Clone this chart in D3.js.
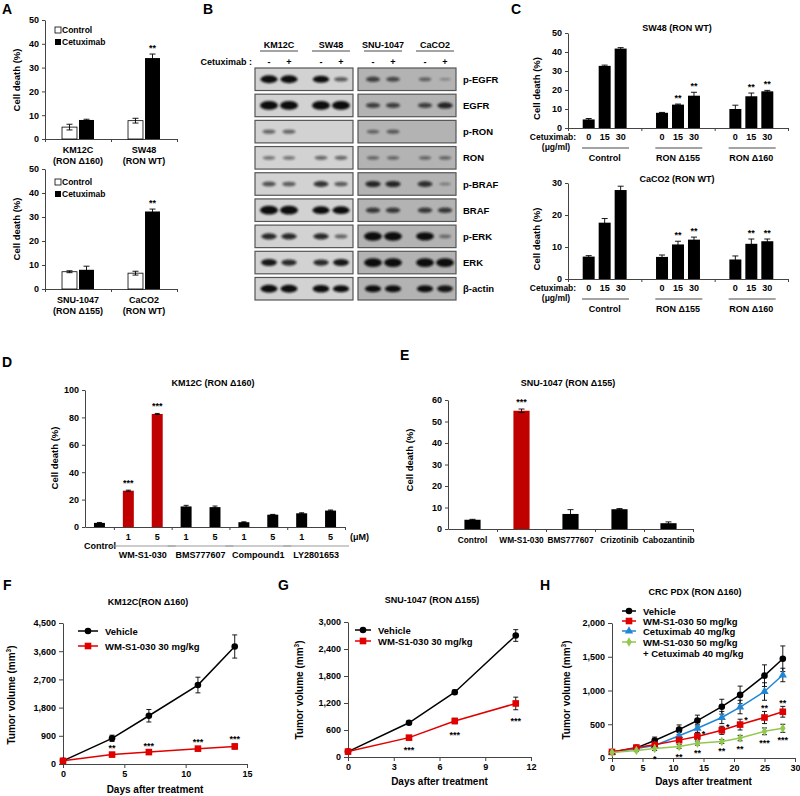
<!DOCTYPE html>
<html>
<head>
<meta charset="utf-8">
<script src="https://cdn.jsdelivr.net/npm/d3@7"></script>
<style>
body{margin:0;background:#fff;}
svg text{font-family:"Liberation Sans",Arial,sans-serif;font-weight:bold;fill:#000;}
</style>
</head>
<body>
<svg id="fig" width="800" height="796"></svg>
<script>
// ---- panel A data
var aCatsTop = ["KM12C", "SW48"];
var aSubsTop = ["(RON \u0394160)", "(RON WT)"];
var aCtrlTop = [5.0, 7.7], aCtrlTopErr = [1.2, 1.0];
var aCetTop = [8.0, 34.0], aCetTopErr = [0.3, 1.7];
var aStarsTop = ["", "**"];
var aCatsBot = ["SNU-1047", "CaCO2"];
var aSubsBot = ["(RON \u0394155)", "(RON WT)"];
var aCtrlBot = [7.2, 6.6], aCtrlBotErr = [0.4, 0.8];
var aCetBot = [8.0, 32.3], aCetBotErr = [1.5, 1.0];
var aStarsBot = ["", "**"];

// ---- panel B (western blot) data
var blotLines = ["KM12C", "SW48", "SNU-1047", "CaCO2"];
var blotTreat = ["-", "+"];
var blotRows = ["p-EGFR", "EGFR", "p-RON", "RON", "p-BRAF", "BRAF", "p-ERK", "ERK", "\u03b2-actin"];
var blotBands = [
  [0.85, 0.85, 0.75, 0.35, 0.45, 0.4, 0.25, 0.05],
  [1, 1, 1, 1, 0.45, 0.45, 0.45, 0.6],
  [0.3, 0.3, 0, 0, 0.25, 0.3, 0, 0],
  [0.22, 0.22, 0.28, 0.28, 0.22, 0.22, 0.22, 0.22],
  [0.4, 0.35, 0.55, 0.35, 0.6, 0.6, 0.55, 0.12],
  [1, 1, 0.85, 0.85, 0.5, 0.5, 0.5, 0.5],
  [0.6, 0.6, 0.6, 0.3, 1, 1, 0.95, 0.2],
  [0.7, 0.6, 0.6, 0.7, 1, 1, 1, 1],
  [0.85, 0.85, 0.8, 0.75, 0.75, 0.75, 0.75, 0.7]
];

// ---- panel C data
var cGroups = ["Control", "RON \u0394155", "RON \u0394160"];
var cDoses = ["0", "15", "30"];
var cSw48 = [[4.5, 32.7, 41.8], [8.0, 12.3, 17.0], [10.0, 16.7, 19.3]];
var cSw48Err = [[0.5, 0.4, 0.5], [0.2, 0.3, 1.8], [2.0, 1.7, 0.5]];
var cSw48Stars = [["", "", ""], ["", "**", "**"], ["", "**", "**"]];
var cCaco2 = [[7.0, 17.6, 27.8], [6.9, 10.8, 12.3], [6.1, 11.0, 11.8]];
var cCaco2Err = [[0.3, 1.3, 1.2], [0.6, 1.0, 0.8], [1.1, 1.5, 0.7]];
var cCaco2Stars = [["", "", ""], ["", "**", "**"], ["", "**", "**"]];

// ---- panel D data
var dGroups = ["Control", "WM-S1-030", "BMS777607", "Compound1", "LY2801653"];
var dBarGroup = [0, 1, 1, 2, 2, 3, 3, 4, 4];
var dDoses = ["", "1", "5", "1", "5", "1", "5", "1", "5"];
var dValues = [3.0, 26.5, 82.5, 15.0, 14.5, 3.5, 9.0, 10.0, 12.0];
var dErr = [0.3, 0.4, 0.4, 0.8, 0.8, 0.3, 0.2, 0.4, 0.4];
var dStars = ["", "***", "***", "", "", "", "", "", ""];

// ---- panel E data
var eCats = ["Control", "WM-S1-030", "BMS777607", "Crizotinib", "Cabozantinib"];
var eValues = [4.3, 55.0, 7.0, 9.2, 2.7];
var eErr = [0.2, 0.8, 2.0, 0.3, 0.6];
var eStars = ["", "***", "", "", ""];

// ---- panel F data
var fDays = [0, 4, 7, 11, 14];
var fVehicle = [100, 820, 1540, 2520, 3750];
var fVehicleErr = [20, 100, 200, 250, 370];
var fWm = [100, 300, 380, 490, 560];
var fWmErr = [20, 40, 40, 60, 80];
var fStars = ["", "**", "***", "***", "***"];

// ---- panel G data
var gDays = [0, 4, 7, 11];
var gVehicle = [120, 760, 1440, 2700];
var gVehicleErr = [15, 40, 50, 130];
var gWm = [120, 430, 800, 1190];
var gWmErr = [15, 30, 60, 140];
var gStars = ["", "***", "***", "***"];

// ---- panel H data
var hDays = [0, 4, 7, 11, 14, 18, 21, 25, 28];
var hVehicle = [90, 150, 260, 420, 555, 760, 935, 1220, 1470];
var hVehicleErr = [10, 20, 50, 70, 80, 110, 130, 160, 190];
var hWm = [90, 155, 195, 265, 320, 410, 495, 600, 685];
var hWmErr = [10, 20, 30, 40, 50, 60, 80, 90, 80];
var hCet = [80, 140, 185, 330, 440, 600, 755, 985, 1230];
var hCetErr = [10, 20, 30, 50, 60, 90, 100, 130, 100];
var hCombo = [80, 110, 140, 170, 220, 245, 295, 395, 440];
var hComboErr = [10, 15, 30, 30, 30, 30, 40, 50, 60];
var hStarsWm = ["", "", "", "", "*", "*", "*", "**", "**"];
var hStarsCombo = ["", "", "*", "**", "**", "**", "**", "***", "***"];

var svg = d3.select("#fig");
var red = "#c00000";
var lineRed = "#e00000";
var blue = "#1f87d6";
var green = "#92c850";

function txt(g, x, y, s, size, anchor) {
  return g.append("text").attr("x", x).attr("y", y).text(s)
    .style("font-size", size + "px").attr("text-anchor", anchor || "middle");
}

function styleAxis(g, fs) {
  g.select(".domain").attr("stroke", "#444");
  g.selectAll(".tick line").attr("stroke", "#444");
  g.selectAll(".tick text").style("font-size", (fs || 9) + "px");
}

function yLabel(g, x, y, s, size) {
  g.append("text").attr("transform", "translate(" + x + "," + y + ") rotate(-90)")
    .attr("text-anchor", "middle").style("font-size", (size || 9.5) + "px").text(s);
}

function errBar(g, x, yLo, yHi, cap) {
  g.append("line").attr("x1", x).attr("x2", x).attr("y1", yLo).attr("y2", yHi).attr("stroke", "#000").attr("stroke-width", 0.9);
  g.append("line").attr("x1", x - cap).attr("x2", x + cap).attr("y1", yHi).attr("y2", yHi).attr("stroke", "#000").attr("stroke-width", 0.9);
  g.append("line").attr("x1", x - cap).attr("x2", x + cap).attr("y1", yLo).attr("y2", yLo).attr("stroke", "#000").attr("stroke-width", 0.9);
}

// panel letters
[["A", 2, 14], ["B", 203, 14], ["C", 511, 14], ["D", 2, 367], ["E", 400, 360],
 ["F", 3, 590], ["G", 278, 590], ["H", 540, 590]].forEach(function (p) {
  txt(svg, p[1], p[2], p[0], 14, "start");
});

// ================= Panel A =================
function panelA(yTop, yBot, cats, subs, ctrl, ctrlE, cet, cetE, stars, legY, labY) {
  var g = svg.append("g");
  var y = d3.scaleLinear().domain([0, 50]).range([yBot, yTop]);
  var x0 = d3.scaleBand().domain(cats).range([45, 177]);
  var x1 = d3.scaleBand().domain(["Control", "Cetuximab"]).range([0, x0.bandwidth()])
    .paddingInner(0.12).paddingOuter(1.0);
  var ya = g.append("g").attr("transform", "translate(45,0)")
    .call(d3.axisLeft(y).tickValues([0, 10, 20, 30, 40, 50]).tickSize(3).tickSizeOuter(0));
  styleAxis(ya, 9);
  var xl = d3.scaleLinear().domain([0, 2]).range([45, 177]);
  var xa = g.append("g").attr("transform", "translate(0," + yBot + ")")
    .call(d3.axisBottom(xl).tickValues([0, 1, 2]).tickSize(3).tickFormat(""));
  styleAxis(xa);
  cats.forEach(function (c, i) {
    var xc = x0(c) + x1("Control"), xt = x0(c) + x1("Cetuximab"), bw = x1.bandwidth();
    g.append("rect").attr("x", xc).attr("y", y(ctrl[i])).attr("width", bw).attr("height", yBot - y(ctrl[i]))
      .attr("fill", "#fff").attr("stroke", "#000").attr("stroke-width", 0.8);
    errBar(g, xc + bw / 2, y(ctrl[i] - ctrlE[i]), y(ctrl[i] + ctrlE[i]), 3);
    g.append("rect").attr("x", xt).attr("y", y(cet[i])).attr("width", bw).attr("height", yBot - y(cet[i]))
      .attr("fill", "#000");
    errBar(g, xt + bw / 2, y(cet[i] - cetE[i]), y(cet[i] + cetE[i]), 3);
    if (stars[i]) txt(g, xt + bw / 2, y(cet[i] + cetE[i]) - 3, stars[i], 9);
    txt(g, x0(c) + x0.bandwidth() / 2, yBot + 14, c, 9);
    txt(g, x0(c) + x0.bandwidth() / 2, yBot + 25, subs[i], 9);
  });
  g.append("rect").attr("x", 55).attr("y", legY - 6).attr("width", 6).attr("height", 6)
    .attr("fill", "#fff").attr("stroke", "#000").attr("stroke-width", 0.8);
  txt(g, 62, legY, "Control", 8.5, "start");
  g.append("rect").attr("x", 55).attr("y", legY + 6).attr("width", 6).attr("height", 6).attr("fill", "#000");
  txt(g, 62, legY + 12, "Cetuximab", 8.5, "start");
  yLabel(g, labY[0], labY[1], "Cell death (%)", 9.5);
}
panelA(20, 139, aCatsTop, aSubsTop, aCtrlTop, aCtrlTopErr, aCetTop, aCetTopErr, aStarsTop, 33, [20, 80]);
panelA(169, 289, aCatsBot, aSubsBot, aCtrlBot, aCtrlBotErr, aCetBot, aCetBotErr, aStarsBot, 185, [20, 229]);

// ================= Panel B (western blot) =================
(function () {
  var g = svg.append("g");
  var defs = svg.append("defs");
  defs.append("filter").attr("id", "blur").attr("x", "-50%").attr("y", "-100%").attr("width", "200%").attr("height", "300%")
    .append("feGaussianBlur").attr("stdDeviation", 0.8);
  var xLine = d3.scaleBand().domain(blotLines).range([253, 461]);
  var lanes = [];
  blotLines.forEach(function (l) {
    blotTreat.forEach(function (t, j) {
      lanes.push(xLine(l) + xLine.bandwidth() / 2 + (j === 0 ? -10 : 10));
    });
  });
  blotLines.forEach(function (l) {
    var cx = xLine(l) + xLine.bandwidth() / 2;
    txt(g, cx, 48, l, 9);
    g.append("line").attr("x1", cx - 19).attr("x2", cx + 19).attr("y1", 51).attr("y2", 51).attr("stroke", "#333").attr("stroke-width", 0.9);
  });
  txt(g, 252, 65, "Cetuximab :", 9, "end");
  lanes.forEach(function (lx, i) { txt(g, lx, 65, blotTreat[i % 2], 9); });
  var rowY = d3.scaleBand().domain(blotRows).range([68, 300]).paddingInner(0.14);
  var boxes = [[255, 353, "#d2d2d2"], [358, 456, "#b3b3b3"]];
  blotRows.forEach(function (r, ri) {
    var y0 = rowY(r), h = rowY.bandwidth();
    boxes.forEach(function (b) {
      g.append("rect").attr("x", b[0]).attr("y", y0).attr("width", b[1] - b[0]).attr("height", h)
        .attr("fill", b[2]).attr("stroke", "#555").attr("stroke-width", 1.2);
    });
    blotBands[ri].forEach(function (v, li) {
      if (v <= 0) return;
      g.append("ellipse").attr("cx", lanes[li]).attr("cy", y0 + h / 2)
        .attr("rx", 5.5 + 3.5 * v).attr("ry", 1.2 + 3.2 * v)
        .attr("fill", "#111").attr("opacity", Math.min(1, 0.25 + v))
        .attr("filter", "url(#blur)");
    });
    txt(g, 463, y0 + h / 2 + 3.5, r, 9.5, "start");
  });
})();

// ================= Panel C =================
function panelC(title, yTop, yBot, yMax, ticks, vals, errs, stars, titleY) {
  var g = svg.append("g");
  var y = d3.scaleLinear().domain([0, yMax]).range([yBot, yTop]);
  var x0 = d3.scaleBand().domain(cGroups).range([568, 788]);
  var x1 = d3.scaleBand().domain(cDoses).range([0, x0.bandwidth()]).paddingInner(0.25).paddingOuter(0.92);
  var ya = g.append("g").attr("transform", "translate(568,0)")
    .call(d3.axisLeft(y).tickValues(ticks).tickSize(3).tickSizeOuter(0));
  styleAxis(ya, 9);
  var xl = d3.scaleLinear().domain([0, 3]).range([568, 788]);
  var xa = g.append("g").attr("transform", "translate(0," + yBot + ")")
    .call(d3.axisBottom(xl).tickValues([0, 1, 2, 3]).tickSize(3).tickFormat(""));
  styleAxis(xa);
  txt(g, 677, titleY, title, 9);
  cGroups.forEach(function (grp, gi) {
    cDoses.forEach(function (d, di) {
      var bx = x0(grp) + x1(d), bw = x1.bandwidth(), v = vals[gi][di], e = errs[gi][di];
      g.append("rect").attr("x", bx).attr("y", y(v)).attr("width", bw).attr("height", yBot - y(v)).attr("fill", "#000");
      errBar(g, bx + bw / 2, y(v - e), y(v + e), 3);
      if (stars[gi][di]) txt(g, bx + bw / 2, y(v + e) - 3, stars[gi][di], 9);
      txt(g, bx + bw / 2, yBot + 12, d, 9);
    });
    var gx = x0(grp);
    g.append("line").attr("x1", gx + 14).attr("x2", gx + 61).attr("y1", yBot + 20).attr("y2", yBot + 20)
      .attr("stroke", "#333").attr("stroke-width", 0.9);
    txt(g, gx + x0.bandwidth() / 2, yBot + 33, grp, 9);
  });
  txt(g, 553, yBot + 12, "Cetuximab:", 8.5);
  txt(g, 556, yBot + 22, "(\u03bcg/ml)", 8.5);
  yLabel(g, 540, (yTop + yBot) / 2 + 8, "Cell death (%)", 9.5);
}
panelC("SW48 (RON WT)", 33, 128, 50, [0, 10, 20, 30, 40, 50], cSw48, cSw48Err, cSw48Stars, 31);
panelC("CaCO2 (RON WT)", 183, 279, 30, [0, 10, 20, 30], cCaco2, cCaco2Err, cCaco2Stars, 182);

// ================= Panel D =================
(function () {
  var g = svg.append("g");
  var yTop = 390, yBot = 527;
  var y = d3.scaleLinear().domain([0, 100]).range([yBot, yTop]);
  var x = d3.scaleBand().domain(d3.range(dValues.length)).range([85, 345]).paddingInner(0.62).paddingOuter(0.31);
  var ya = g.append("g").attr("transform", "translate(85,0)")
    .call(d3.axisLeft(y).tickValues([0, 20, 40, 60, 80, 100]).tickSize(3).tickSizeOuter(0));
  styleAxis(ya, 9);
  var xl = d3.scaleLinear().domain([0, 9]).range([85, 345]);
  var xa = g.append("g").attr("transform", "translate(0," + yBot + ")")
    .call(d3.axisBottom(xl).tickValues([1, 3, 5, 7, 9]).tickSize(3).tickSizeOuter(0).tickFormat(""));
  styleAxis(xa);
  txt(g, 213, 386, "KM12C (RON \u0394160)", 9);
  dValues.forEach(function (v, i) {
    var bx = x(i), bw = x.bandwidth(), e = dErr[i];
    g.append("rect").attr("x", bx).attr("y", y(v)).attr("width", bw).attr("height", yBot - y(v))
      .attr("fill", dBarGroup[i] === 1 ? red : "#000");
    errBar(g, bx + bw / 2, y(v - e), y(v + e), 2.5);
    if (dStars[i]) txt(g, bx + bw / 2, y(v + e) - 4, dStars[i], 9);
    if (dDoses[i]) txt(g, bx + bw / 2, 540, dDoses[i], 9);
  });
  txt(g, 350, 540, "(\u03bcM)", 9, "start");
  txt(g, 100, 549, "Control", 9);
  dGroups.forEach(function (grp, gi) {
    if (gi === 0) return;
    var a = x(2 * gi - 1), b = x(2 * gi) + x.bandwidth();
    g.append("line").attr("x1", a - 13).attr("x2", b + 13).attr("y1", 546).attr("y2", 546)
      .attr("stroke", "#999").attr("stroke-width", 1);
    txt(g, (a + b) / 2, 558, grp, 9);
  });
  yLabel(g, 58, 458, "Cell death (%)", 9.5);
})();

// ================= Panel E =================
(function () {
  var g = svg.append("g");
  var yTop = 400, yBot = 529;
  var y = d3.scaleLinear().domain([0, 60]).range([yBot, yTop]);
  var x = d3.scaleBand().domain(eCats).range([448, 693]).paddingInner(0.67).paddingOuter(0.335);
  var ya = g.append("g").attr("transform", "translate(448,0)")
    .call(d3.axisLeft(y).tickValues([0, 10, 20, 30, 40, 50, 60]).tickSize(3).tickSizeOuter(0));
  styleAxis(ya, 9);
  var xl = d3.scaleLinear().domain([0, 5]).range([448, 693]);
  var xa = g.append("g").attr("transform", "translate(0," + yBot + ")")
    .call(d3.axisBottom(xl).tickValues([1, 2, 3, 4, 5]).tickSize(3).tickSizeOuter(0).tickFormat(""));
  styleAxis(xa);
  txt(g, 568, 386, "SNU-1047 (RON \u0394155)", 9);
  eCats.forEach(function (c, i) {
    var bx = x(c), bw = x.bandwidth(), v = eValues[i], e = eErr[i];
    g.append("rect").attr("x", bx).attr("y", y(v)).attr("width", bw).attr("height", yBot - y(v))
      .attr("fill", i === 1 ? red : "#000");
    errBar(g, bx + bw / 2, y(v - e), y(v + e), 3);
    if (eStars[i]) txt(g, bx + bw / 2, y(v + e) - 4, eStars[i], 9);
    txt(g, bx + bw / 2, 543, c, 8.3);
  });
  yLabel(g, 413, 460, "Cell death (%)", 9.5);
})();

// ================= Line panels F, G, H =================
function marker(g, shape, x, y, color) {
  if (shape === "circle") {
    g.append("circle").attr("cx", x).attr("cy", y).attr("r", 3.3).attr("fill", color);
  } else if (shape === "square") {
    g.append("rect").attr("x", x - 3.3).attr("y", y - 3.3).attr("width", 6.6).attr("height", 6.6).attr("fill", color);
  } else {
    var sym = shape === "triangle" ? d3.symbolTriangle : d3.symbolDiamond;
    g.append("path").attr("d", d3.symbol().type(sym).size(shape === "triangle" ? 30 : 26)())
      .attr("transform", "translate(" + x + "," + y + ")").attr("fill", color);
  }
}

function series(g, x, y, days, vals, errs, color, shape) {
  days.forEach(function (d, i) {
    errBar(g, x(d), y(Math.max(0, vals[i] - errs[i])), y(vals[i] + errs[i]), 2.5);
  });
  g.append("path").datum(days.map(function (d, i) { return [d, vals[i]]; }))
    .attr("d", d3.line().x(function (p) { return x(p[0]); }).y(function (p) { return y(p[1]); }))
    .attr("fill", "none").attr("stroke", color).attr("stroke-width", 1.5);
  days.forEach(function (d, i) { marker(g, shape, x(d), y(vals[i]), color); });
}

function lineAxes(g, x, y, xTicks, yTicks, x0, yBot, title, titleX, titleY, labX, labY, xLabY) {
  var ya = g.append("g").attr("transform", "translate(" + x0 + ",0)")
    .call(d3.axisLeft(y).tickValues(yTicks).tickSize(4).tickSizeOuter(0).tickFormat(d3.format(",")));
  styleAxis(ya, 9);
  var xa = g.append("g").attr("transform", "translate(0," + yBot + ")")
    .call(d3.axisBottom(x).tickValues(xTicks).tickSize(4).tickSizeOuter(0));
  styleAxis(xa, 9);
  txt(g, titleX, titleY, title, 9);
  txt(g, (x.range()[0] + x.range()[1]) / 2, xLabY, "Days after treatment", 10);
  var t = g.append("text").attr("transform", "translate(" + labX + "," + labY + ") rotate(-90)")
    .attr("text-anchor", "middle").style("font-size", "10px");
  t.append("tspan").text("Tumor volume (mm");
  t.append("tspan").text("3").style("font-size", "6.5px").attr("dy", -4);
  t.append("tspan").text(")").attr("dy", 4);
}

function legendItem(g, x1, x2, y, color, shape, label) {
  g.append("line").attr("x1", x1).attr("x2", x2).attr("y1", y).attr("y2", y).attr("stroke", color).attr("stroke-width", 1.5);
  marker(g, shape, (x1 + x2) / 2, y, color);
  txt(g, x2 + 7, y + 3.5, label, 9.5, "start");
}

// F
(function () {
  var g = svg.append("g");
  var x = d3.scaleLinear().domain([0, 15]).range([63, 247]);
  var y = d3.scaleLinear().domain([0, 4500]).range([764, 623]);
  lineAxes(g, x, y, [0, 5, 10, 15], [0, 900, 1800, 2700, 3600, 4500], 63, 764,
    "KM12C(RON \u0394160)", 148, 605, 15, 695, 793);
  series(g, x, y, fDays, fVehicle, fVehicleErr, "#000", "circle");
  series(g, x, y, fDays, fWm, fWmErr, lineRed, "square");
  fDays.forEach(function (d, i) {
    if (fStars[i]) txt(g, x(d), y(fWm[i] + fWmErr[i]) - 2, fStars[i], 9);
  });
  legendItem(g, 78, 98, 631, "#000", "circle", "Vehicle");
  legendItem(g, 78, 98, 646, lineRed, "square", "WM-S1-030 30 mg/kg");
})();

// G
(function () {
  var g = svg.append("g");
  var x = d3.scaleLinear().domain([0, 12]).range([348, 531]);
  var y = d3.scaleLinear().domain([0, 3000]).range([757, 622]);
  lineAxes(g, x, y, [0, 3, 6, 9, 12], [0, 600, 1200, 1800, 2400, 3000], 348, 757,
    "SNU-1047 (RON \u0394155)", 432, 603, 303, 690, 785);
  series(g, x, y, gDays, gVehicle, gVehicleErr, "#000", "circle");
  series(g, x, y, gDays, gWm, gWmErr, lineRed, "square");
  gDays.forEach(function (d, i) {
    if (gStars[i]) txt(g, x(d), y(gWm[i] - gWmErr[i]) + 14, gStars[i], 9);
  });
  legendItem(g, 355, 371, 630, "#000", "circle", "Vehicle");
  legendItem(g, 355, 371, 641, lineRed, "square", "WM-S1-030 30 mg/kg");
})();

// H
(function () {
  var g = svg.append("g");
  var x = d3.scaleLinear().domain([0, 30]).range([612, 795]);
  var y = d3.scaleLinear().domain([0, 2000]).range([758, 623]);
  lineAxes(g, x, y, [0, 5, 10, 15, 20, 25, 30], [0, 500, 1000, 1500, 2000], 612, 758,
    "CRC PDX (RON \u0394160)", 695, 595, 570, 690, 785);
  series(g, x, y, hDays, hVehicle, hVehicleErr, "#000", "circle");
  series(g, x, y, hDays, hCet, hCetErr, blue, "triangle");
  series(g, x, y, hDays, hWm, hWmErr, lineRed, "square");
  series(g, x, y, hDays, hCombo, hComboErr, green, "diamond");
  hDays.forEach(function (d, i) {
    if (hStarsCombo[i]) txt(g, x(d), y(hCombo[i] - hComboErr[i]) + 11, hStarsCombo[i], 9);
    if (hStarsWm[i]) {
      var side = d < 25 ? 6 : 0;
      txt(g, x(d) + side, y(hWm[i] + hWmErr[i]) + (d < 25 ? 4 : 0), hStarsWm[i], 9);
    }
  });
  legendItem(g, 622, 636, 611, "#000", "circle", "Vehicle");
  legendItem(g, 622, 636, 621, lineRed, "square", "WM-S1-030 50 mg/kg");
  legendItem(g, 622, 636, 631, blue, "triangle", "Cetuximab 40 mg/kg");
  legendItem(g, 622, 636, 642, green, "diamond", "WM-S1-030 50 mg/kg");
  txt(g, 643, 657, "+ Cetuximab 40 mg/kg", 9.5, "start");
})();
</script>
</body>
</html>
